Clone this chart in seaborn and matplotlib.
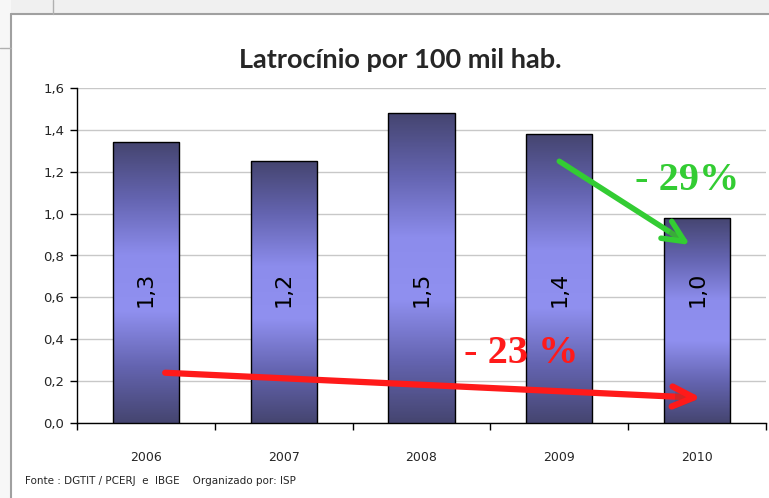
import numpy as np
import pandas as pd
import matplotlib
matplotlib.use("Agg")
import matplotlib.pyplot as plt
import seaborn as sns
from matplotlib import patheffects as pe
from matplotlib.colors import LinearSegmentedColormap

# data
years = ["2006", "2007", "2008", "2009", "2010"]
rates = [1.34, 1.25, 1.48, 1.38, 0.98]
bar_labels = ["1,3", "1,2", "1,5", "1,4", "1,0"]
y_ticks = [0.0, 0.2, 0.4, 0.6, 0.8, 1.0, 1.2, 1.4, 1.6]
y_tick_labels = ["0,0", "0,2", "0,4", "0,6", "0,8", "1,0", "1,2", "1,4", "1,6"]

df = pd.DataFrame({"ano": years, "taxa": rates})

sns.set_theme(style="white")
plt.rcParams["font.family"] = ["DejaVu Sans"]

fig = plt.figure(figsize=(7.69, 4.98), dpi=100)
fig.patch.set_facecolor("white")

# background frame like the slide screenshot
bg = fig.add_axes([0, 0, 1, 1], zorder=-5)
bg.set_xlim(0, 769)
bg.set_ylim(498, 0)
bg.axis("off")
bg.add_patch(plt.Rectangle((0, 0), 769, 14, color="#f0f0f0", lw=0))
bg.add_patch(plt.Rectangle((0, 0), 11, 498, color="#f7f7f7", lw=0))
bg.plot([11, 769], [14, 14], color="#a0a0a0", lw=1.5)
bg.plot([11, 11], [14, 498], color="#a0a0a0", lw=1.5)
bg.plot([53, 53], [0, 14], color="#b0b0b0", lw=1)
bg.plot([0, 11], [48, 48], color="#b0b0b0", lw=1)

ax = fig.add_axes([77 / 769, 75 / 498, (766 - 77) / 769, (423 - 88) / 498])
sns.barplot(data=df, x="ano", y="taxa", ax=ax, width=0.48,
            color="#6a6ab0", edgecolor="black", linewidth=1.0, zorder=3)

# vertical gradient fill for bars (dark at top and bottom, light in middle)
cmap = LinearSegmentedColormap.from_list(
    "barra", ["#454570", "#6464b0", "#9090f0", "#8c8cec", "#6464b0", "#454570"])
grad = np.linspace(0, 1, 256).reshape(-1, 1)
for p in ax.patches:
    x0, y0 = p.get_x(), p.get_y()
    w, h = p.get_width(), p.get_height()
    im = ax.imshow(grad, cmap=cmap, aspect="auto", origin="lower",
                   extent=[x0, x0 + w, y0, y0 + h], zorder=3.5)
    im.set_clip_path(p)
    p.set_facecolor("none")
    p.set_zorder(4)
ax.set_xlim(-0.5, 4.5)
ax.set_ylim(0, 1.6)

for i, lab in enumerate(bar_labels):
    ax.text(i, 0.64, lab, rotation=90, ha="center", va="center",
            fontsize=16, color="black", zorder=6)

ax.set_yticks(y_ticks)
ax.set_yticklabels(y_tick_labels, fontsize=9.5)
ax.yaxis.grid(True, color="#c8c8c8", lw=1)
ax.set_axisbelow(True)
ax.set_xlabel("")
ax.set_ylabel("")
ax.tick_params(axis="x", length=0, pad=20, labelsize=9)
ax.set_xticks(np.arange(-0.5, 5.0, 1.0), minor=True)
ax.tick_params(axis="x", which="minor", length=5, width=1, color="black",
               bottom=True)
ax.tick_params(axis="y", length=5, width=1, color="black", left=True, pad=4)
for s in ["top", "right"]:
    ax.spines[s].set_visible(False)
for s in ["left", "bottom"]:
    ax.spines[s].set_color("black")
    ax.spines[s].set_linewidth(1)

shadow = [pe.SimplePatchShadow(offset=(2, -2), alpha=0.25), pe.Normal()]

# red arrow: 2006 -> 2010
ax.annotate("", xy=(4.03, 0.12), xytext=(0.14, 0.24),
            arrowprops=dict(arrowstyle="->,head_length=1.3,head_width=0.6",
                            color="#ff1a1a", lw=4.5, shrinkA=0, shrinkB=0,
                            path_effects=shadow),
            zorder=7)
ax.text(2.72, 0.33, "- 23 %", color="#ff1a1a", fontsize=29, fontweight="bold",
        family="Liberation Serif", ha="center", va="center", zorder=7)

# green arrow: 2009 -> 2010
ax.annotate("", xy=(3.95, 0.85), xytext=(3.0, 1.25),
            arrowprops=dict(arrowstyle="->,head_length=1.3,head_width=0.6",
                            color="#33cc33", lw=4, shrinkA=0, shrinkB=0,
                            path_effects=shadow),
            zorder=7)
ax.text(3.93, 1.16, "- 29%", color="#33cc33", fontsize=29, fontweight="bold",
        family="Liberation Serif", ha="center", va="center", zorder=7)

fig.text(400 / 769, 1 - 60 / 498, "Latrocínio por 100 mil hab.",
         ha="center", va="center", fontsize=19.5, fontweight="bold",
         family="Lato")
fig.text(25 / 769, 1 - 481 / 498,
         "Fonte : DGTIT / PCERJ  e  IBGE    Organizado por: ISP",
         ha="left", va="center", fontsize=7.5)

fig.savefig("out.png", dpi=100)
